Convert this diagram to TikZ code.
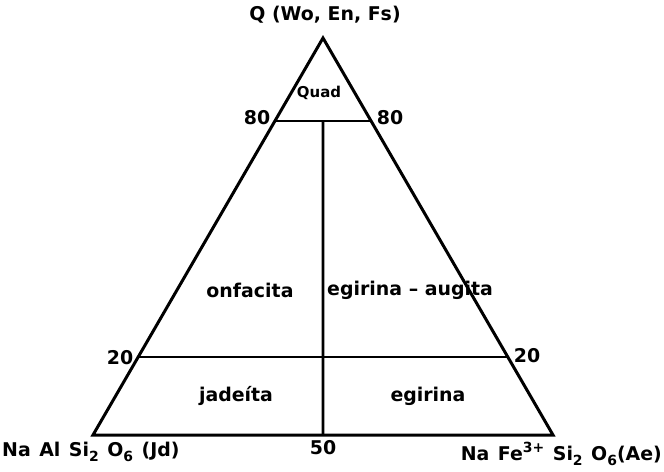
\documentclass[tikz,border=0pt]{standalone}
\usepackage{fontspec}
\setmainfont{DejaVu Sans}
\usetikzlibrary{calc}
\tikzset{
  lbl/.style={inner sep=0pt, font=\fontsize{19}{19}\selectfont\bfseries},
  small/.style={inner sep=0pt, font=\fontsize{15}{15}\selectfont\bfseries},
  side/.style={line width=3bp, line join=miter},
  inner/.style={line width=2.2bp}
}
\newcommand{\sbs}[1]{\raisebox{-0.3em}{\fontsize{14}{14}\selectfont #1}}
\newcommand{\sps}[1]{\raisebox{0.4em}{\fontsize{14}{14}\selectfont #1}}
\newcommand{\wsp}{\hspace{0.45em}}
\begin{document}
\begin{tikzpicture}[x=1bp,y=-1bp]
\useasboundingbox (0,0) rectangle (664,472);
\coordinate (A) at (93,435);
\coordinate (B) at (553,435);
\coordinate (C) at (323,38);
\draw[side] (A) -- (B) -- (C) -- cycle;
\coordinate (L80) at ($(C)!0.209!(A)$);
\coordinate (R80) at ($(C)!0.209!(B)$);
\coordinate (L20) at ($(C)!0.8035!(A)$);
\coordinate (R20) at ($(C)!0.8035!(B)$);
\coordinate (M80) at ($(L80)!0.5!(R80)$);
\coordinate (MAB) at ($(A)!0.5!(B)$);
\draw[inner] (L80) -- (R80);
\draw[inner, line width=1.9bp] (L20) -- (R20);
\draw[inner, line width=2.6bp] (M80) -- (MAB);

\node[lbl] (q) at (325,15) {Q (Wo, En, Fs)};
\node[small] (quad) at (319,93) {Quad};
\node[lbl] (l80) at (257,118) {80};
\node[lbl] (r80) at (390,118) {80};
\node[lbl] (onf) at (250,290) {onfacita};
\node[lbl, anchor=west] (ega) at (327,290) {egirina – augita};
\node[lbl] (l20) at (120,358) {20};
\node[lbl] (r20) at (527,356) {20};
\node[lbl] (jad) at (236,396) {jadeíta};
\node[lbl] (egi) at (428,396) {egirina};
\node[lbl] (f50) at (323,448) {50};
\node[lbl, anchor=base west] (jd) at (2,456) {Na\wsp Al\wsp Si\sbs{2}\wsp O\sbs{6}\wsp (Jd)};
\node[lbl, anchor=base east] (ae) at (662,460) {Na\wsp Fe\sps{3+}\wsp Si\sbs{2}\wsp O\sbs{6}(Ae)};
\end{tikzpicture}
\end{document}
